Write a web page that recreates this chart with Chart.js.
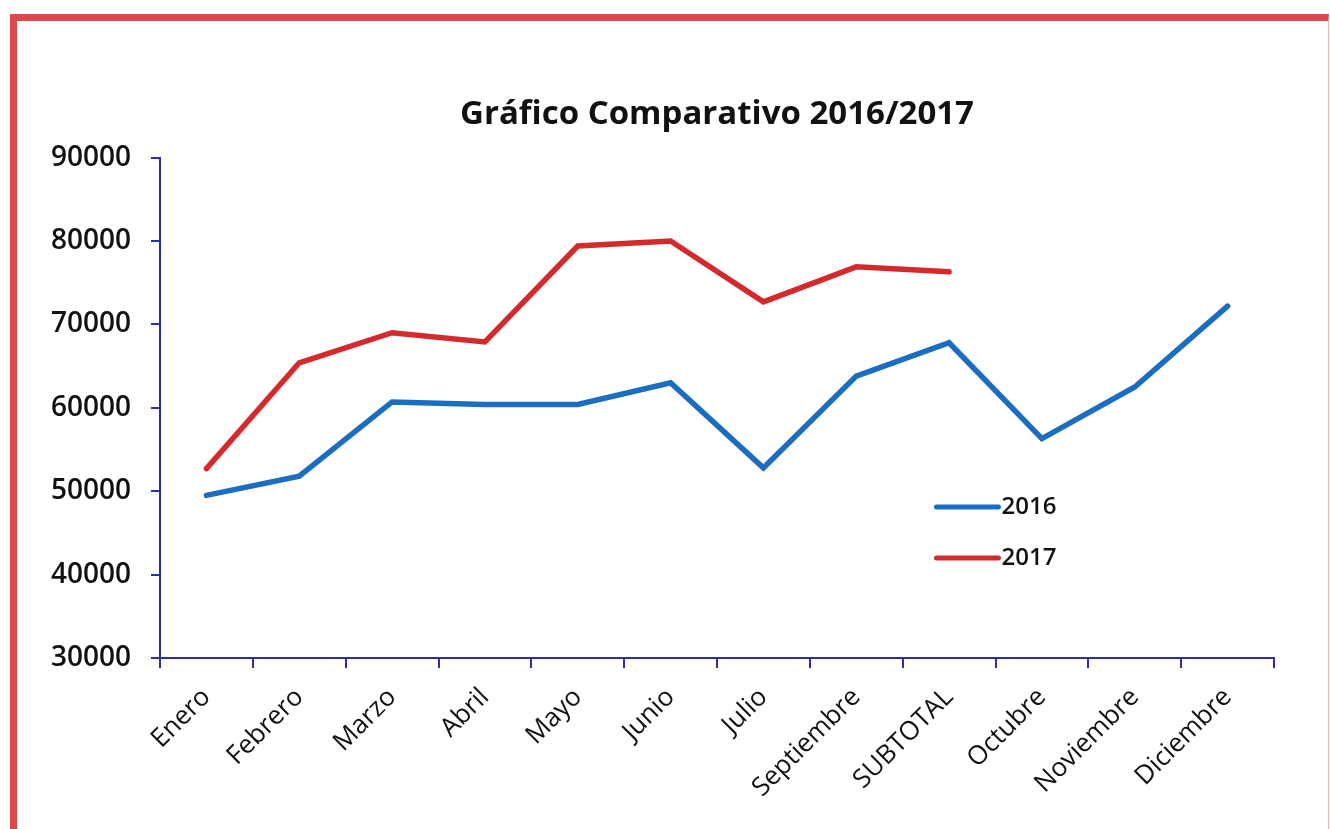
<!DOCTYPE html>
<html>
<head>
<meta charset="utf-8">
<script src="https://cdn.jsdelivr.net/npm/chart.js@4.4.1/dist/chart.umd.min.js"></script>
<style>
  html, body { margin: 0; padding: 0; background: #fff; }
  #frame {
    position: absolute; left: 10px; top: 14px; width: 1311px; height: 830px;
    border-top: 7px solid #d94a4c; border-left: 7px solid #d94a4c; border-right: 1px solid #f2b4b4;
  }
  #wrap { position: absolute; left: 0; top: 0; width: 1330px; height: 829px; }
</style>
</head>
<body>
<div id="frame"></div>
<div id="wrap"><canvas id="myChart"></canvas></div>
<script>
// datos
const meses = ['Enero', 'Febrero', 'Marzo', 'Abril', 'Mayo', 'Junio', 'Julio',
  'Septiembre', 'SUBTOTAL', 'Octubre', 'Noviembre', 'Diciembre'];
const ventas2016 = [49500, 51800, 60700, 60400, 60400, 63000, 52800, 63800, 67800, 56300, 62500, 72200];
const ventas2017 = [52700, 65400, 69000, 67900, 79400, 80000, 72700, 76900, 76300, null, null, null];
const yTicks = [30000, 40000, 50000, 60000, 70000, 80000, 90000];

const axisColor = '#2e2ea8';
const fontFam = '"Open Sans", Lato, sans-serif';

// leyenda dentro del area del grafico
const insideLegend = {
  id: 'insideLegend',
  afterDraw(chart) {
    const ctx = chart.ctx;
    const area = chart.chartArea;
    const x0 = area.left + (area.right - area.left) * 0.697;
    let y = area.top + (area.bottom - area.top) * 0.698;
    chart.data.datasets.forEach(ds => {
      ctx.save();
      ctx.strokeStyle = ds.borderColor;
      ctx.lineWidth = 5;
      ctx.lineCap = 'round';
      ctx.beginPath();
      ctx.moveTo(x0, y);
      ctx.lineTo(x0 + 62, y);
      ctx.stroke();
      ctx.fillStyle = '#111';
      ctx.font = '600 24px ' + fontFam;
      ctx.textBaseline = 'middle';
      ctx.fillText(ds.label, x0 + 65, y);
      ctx.restore();
      y += 51;
    });
  }
};

const ctx = document.getElementById('myChart').getContext('2d');
const myChart = new Chart(ctx, {
  type: 'line',
  data: {
    labels: meses,
    datasets: [{
      label: '2016',
      data: ventas2016,
      borderColor: '#1a6dc0',
      backgroundColor: '#1a6dc0',
      borderWidth: 5.5,
      borderCapStyle: 'round',
      pointRadius: 0,
      tension: 0
    }, {
      label: '2017',
      data: ventas2017,
      borderColor: '#d42a2b',
      backgroundColor: '#d42a2b',
      borderWidth: 5.5,
      borderCapStyle: 'round',
      pointRadius: 0,
      tension: 0
    }]
  },
  options: {
    responsive: true,
    maintainAspectRatio: false,
    animation: false,
    layout: { padding: { left: 0, right: 56, top: 0, bottom: 0 } },
    plugins: {
      legend: { display: false },
      tooltip: { enabled: false },
      title: {
        display: true,
        fullSize: false,
        text: 'Gráfico Comparativo 2016/2017',
        color: '#111',
        font: { family: fontFam, size: 33, weight: 'bold' },
        padding: { top: 95, bottom: 23 }
      }
    },
    scales: {
      x: {
        offset: true,
        grid: {
          offset: true,
          drawOnChartArea: false,
          drawTicks: true,
          tickLength: 10,
          color: axisColor,
          lineWidth: 2
        },
        border: { color: axisColor, width: 2 },
        ticks: {
          color: '#111',
          font: { family: fontFam, size: 26 },
          minRotation: 45,
          maxRotation: 45,
          autoSkip: false,
          padding: 14
        },
        afterFit(scale) { scale.height = 171; }
      },
      y: {
        min: 30000,
        max: 90000,
        afterBuildTicks(scale) { scale.ticks = yTicks.map(v => ({ value: v })); },
        grid: {
          drawOnChartArea: false,
          drawTicks: true,
          tickLength: 9,
          color: axisColor,
          lineWidth: 2
        },
        border: { color: axisColor, width: 2 },
        ticks: {
          color: '#111',
          font: { family: fontFam, size: 28, weight: '600' },
          padding: 20,
          callback: v => String(v)
        },
        afterFit(scale) { scale.width = 160; }
      }
    }
  },
  plugins: [insideLegend]
});
</script>
</body>
</html>
